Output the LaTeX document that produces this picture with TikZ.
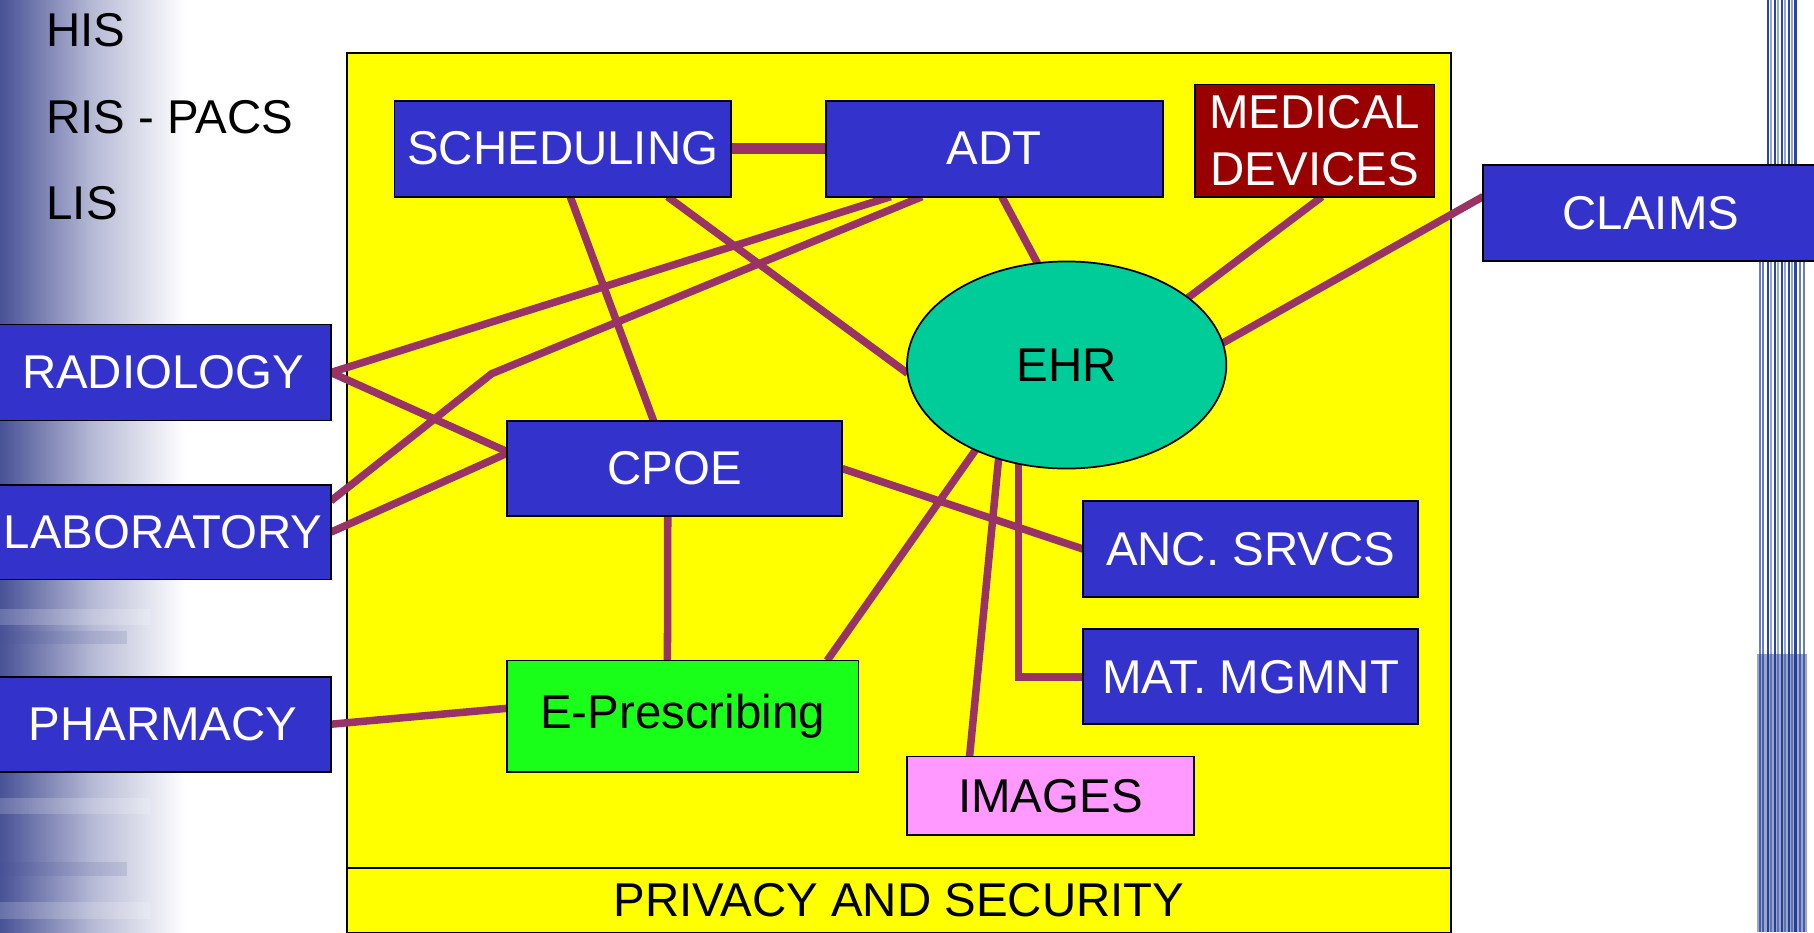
\documentclass[tikz,border=0pt]{standalone}
\usepackage{fontspec}
\setmainfont{Liberation Sans}
\usetikzlibrary{calc,shapes.geometric}
\pgfdeclarelayer{back}
\pgfdeclarelayer{mid}
\pgfsetlayers{back,mid,main}
\definecolor{boxblue}{RGB}{51,51,204}
\definecolor{ylw}{RGB}{255,255,0}
\definecolor{ehrgreen}{RGB}{0,204,153}
\definecolor{medred}{RGB}{153,0,0}
\definecolor{rxgreen}{RGB}{26,255,26}
\definecolor{imgpink}{RGB}{255,153,255}
\definecolor{linkc}{RGB}{153,51,102}
\definecolor{slate}{RGB}{72,82,150}
\definecolor{stripeA}{RGB}{40,70,170}
\definecolor{stripeB}{RGB}{150,165,205}
\tikzset{
  bigfont/.style={font=\fontsize{41}{49}\selectfont},
  sys/.style={draw=black, line width=1.5pt, fill=boxblue, text=white,
    minimum width=290pt, minimum height=83pt, inner sep=0pt, outer sep=0pt, bigfont},
  lbl/.style={anchor=base west, inner sep=0pt, bigfont},
  conn/.style={draw=linkc, line width=6.5pt},
}
\begin{document}
\begin{tikzpicture}[x=1pt,y=-1pt]
\useasboundingbox (0,0) rectangle (1568,806);
\begin{pgfonlayer}{back}
  \fill[white] (0,0) rectangle (1568,806);
  \shade[left color=slate, right color=white, middle color=slate!40!white] (0,0) rectangle (160,806);
  \foreach \y/\h in {526/14,600/8,690/14,780/14}{
    \fill[white, opacity=0.18] (0,\y) rectangle (130,\y+\h);
  }
  \foreach \y/\h in {545/12,650/14,745/12}{
    \fill[slate, opacity=0.15] (0,\y) rectangle (110,\y+\h);
  }
  \foreach \x in {1528,1534,1540,1546,1552}{
    \draw[line width=1.8pt, stripeA] (\x,0) -- (\x,806);
  }
  \foreach \x in {1531,1537,1543,1549}{
    \draw[line width=1.4pt, stripeB] (\x,0) -- (\x,806);
  }
  \foreach \x in {1521,1524,1556,1559}{
    \draw[line width=1.6pt, stripeA!70!white] (\x,225) -- (\x,806);
  }
  \fill[stripeA!80!black, opacity=0.45] (1519,565) rectangle (1562,806);
  % container
  \node[draw=black, line width=1.5pt, fill=ylw, minimum width=954pt, minimum height=760pt,
        anchor=north west, inner sep=0pt, outer sep=0pt] (frame) at (300,46) {};
  \node[draw=black, line width=1.5pt, fill=ylw, minimum width=954pt, minimum height=56pt,
        anchor=north west, inner sep=0pt, outer sep=0pt, bigfont] (band) at (300,750) {PRIVACY AND SECURITY};
\end{pgfonlayer}

% left labels
\node[lbl] (his) at (40,40) {HIS};
\node[lbl] (ris) at (40,115) {RIS - PACS};
\node[lbl] (lis) at (40,190) {LIS};

% systems
\node[sys, minimum width=291pt] (sched) at (486.5,128.5) {SCHEDULING};
\node[sys, minimum width=291pt] (adt) at (859.5,128.5) {ADT};
\node[sys, fill=medred, minimum width=207pt, minimum height=97pt, align=center] (med) at (1136.5,121.5) {MEDICAL\\DEVICES};
\node[sys] (claims) at (1427,184) {CLAIMS};
\node[ellipse, draw=black, line width=1.5pt, fill=ehrgreen, minimum width=276pt, minimum height=179pt,
      inner sep=0pt, outer sep=0pt, bigfont] (ehr) at (922,315.5) {EHR};
\node[sys] (radio) at (141,322) {RADIOLOGY};
\node[sys, minimum height=82pt] (lab) at (141,460) {LABORATORY};
\node[sys, minimum height=82pt] (pharm) at (141,626) {PHARMACY};
\node[sys, minimum height=82pt] (cpoe) at (583,405) {CPOE};
\node[sys, fill=rxgreen, text=black, minimum width=304pt, minimum height=96pt] (erx) at (590,619) {E-Prescribing};
\node[sys] (anc) at (1081,474.5) {ANC. SRVCS};
\node[sys, minimum height=82pt] (mat) at (1081,585) {MAT. MGMNT};
\node[sys, fill=imgpink, text=black, minimum width=248pt, minimum height=68pt] (img) at (908,688) {IMAGES};

\coordinate (bend) at (425,323);

\begin{pgfonlayer}{mid}
  \draw[conn, line width=9.5pt] (sched.east) -- (adt.west);
  \draw[conn] ($(sched.south west)!0.522!(sched.south east)$) -- ($(cpoe.north west)!0.438!(cpoe.north east)$);
  \draw[conn] ($(sched.south west)!0.811!(sched.south east)$) -- (ehr.183);
  \draw[conn] ($(adt.south west)!0.192!(adt.south east)$) -- (radio.east);
  \draw[conn] ($(adt.south west)!0.285!(adt.south east)$) -- (bend) -- ($(lab.north east)!0.17!(lab.south east)$);
  \draw[conn] (radio.east) -- ($(cpoe.north west)!0.32!(cpoe.south west)$);
  \draw[conn] (lab.east) -- ($(cpoe.north west)!0.34!(cpoe.south west)$);
  \draw[conn] ($(adt.south west)!0.522!(adt.south east)$) -- (ehr.106);
  \draw[conn] ($(med.south west)!0.53!(med.south east)$) -- (ehr.29);
  \draw[conn] ($(claims.north west)!0.33!(claims.south west)$) -- (ehr.8);
  \draw[conn] (cpoe.east) -- (anc.west);
  \draw[conn] ($(cpoe.south west)!0.48!(cpoe.south east)$) -- ($(erx.north west)!0.457!(erx.north east)$);
  \draw[conn] (ehr.223) -- ($(erx.north west)!0.911!(erx.north east)$);
  \draw[conn] (ehr.234) -- ($(img.north west)!0.218!(img.north east)$);
  \draw[conn] (ehr.244) |- (mat.west);
  \draw[conn] (pharm.east) -- ($(erx.north west)!0.43!(erx.south west)$);
\end{pgfonlayer}
\end{tikzpicture}
\end{document}
